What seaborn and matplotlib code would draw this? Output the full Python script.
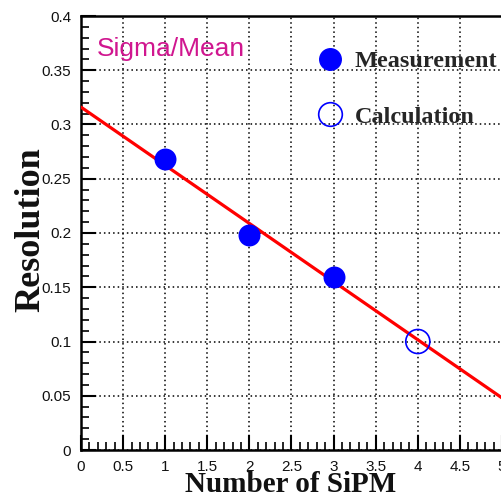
import matplotlib
matplotlib.use("Agg")
import matplotlib.pyplot as plt
import seaborn as sns
import pandas as pd
from matplotlib.ticker import MultipleLocator, FuncFormatter
from matplotlib.lines import Line2D

# ---- data ----
meas_n = [1, 2, 3]
meas_res = [0.268, 0.198, 0.159]
calc_n = [4]
calc_res = [0.100]
fit_n = [0, 5]
fit_res = [0.316, 0.048]
xlabel = "Number of SiPM"
ylabel = "Resolution"
title_text = "Sigma/Mean"
legend_labels = ["Measurement", "Calculation"]

sns.set_theme(style="white")
plt.rcParams['font.family'] = ['Liberation Sans', 'DejaVu Sans']

W, H = 502, 496
fig = plt.figure(figsize=(W / 100, H / 100), dpi=100)
ax = fig.add_axes([81 / W, 46 / H, 421 / W, 434 / H])

meas_df = pd.DataFrame({"n": meas_n, "res": meas_res})
calc_df = pd.DataFrame({"n": calc_n, "res": calc_res})
fit_df = pd.DataFrame({"n": fit_n, "res": fit_res})

sns.lineplot(data=fit_df, x="n", y="res", color="#ff0000", linewidth=2.3, ax=ax, zorder=3)
sns.scatterplot(data=meas_df, x="n", y="res", color="#0000ff", s=250, marker="o",
                edgecolor="#0000ff", linewidth=0, ax=ax, zorder=4)
ax.scatter(calc_df["n"], calc_df["res"], s=300, facecolors="none", edgecolors="#0000ff",
           linewidths=1.2, zorder=4)

ax.set_xlim(0, 5)
ax.set_ylim(0, 0.4)
ax.xaxis.set_major_locator(MultipleLocator(0.5))
ax.xaxis.set_minor_locator(MultipleLocator(0.1))
ax.yaxis.set_major_locator(MultipleLocator(0.05))
ax.yaxis.set_minor_locator(MultipleLocator(0.01))
ax.xaxis.set_major_formatter(FuncFormatter(lambda v, p: f"{v:g}"))
ax.yaxis.set_major_formatter(FuncFormatter(lambda v, p: f"{v:g}"))

ax.grid(True, which="major", color="black", linestyle=(0, (1, 2.0)), linewidth=1.1)
ax.set_axisbelow(True)

ax.tick_params(which="major", direction="in", length=11, width=1.5, color="black",
               labelsize=11, pad=7, bottom=True, left=True, top=False, right=False)
ax.tick_params(which="minor", direction="in", length=6, width=1.2, color="black",
               bottom=True, left=True, top=False, right=False)
for lab in ax.get_xticklabels() + ax.get_yticklabels():
    lab.set_color("#111111")

for side in ["left", "bottom", "top"]:
    ax.spines[side].set_visible(True)
    ax.spines[side].set_color("black")
    ax.spines[side].set_linewidth(1.8)
ax.spines["right"].set_visible(False)

ax.set_xlabel(xlabel, fontsize=21, fontweight="bold", family="Liberation Serif", color="#111111")
ax.xaxis.set_label_coords((290.5 - 81) / 421, (450 - 471) / 434)
ax.set_ylabel(ylabel, fontsize=26, fontweight="bold", family="Liberation Serif",
              color="#111111", va="center")
ax.yaxis.set_label_coords((31 - 81) / 421, (450 - 230) / 434)

fig.text(97 / W, 1 - 49 / H, title_text, color="#d0168f", fontsize=19,
         family="Liberation Sans", va="center", ha="left")

handles = [
    Line2D([], [], linestyle="none", marker="o", markersize=15.5, markerfacecolor="#0000ff",
           markeredgecolor="#0000ff"),
    Line2D([], [], linestyle="none", marker="o", markersize=17, markerfacecolor="none",
           markeredgecolor="#0000ff", markeredgewidth=1.2),
]
leg = ax.legend(handles, legend_labels, loc="upper left",
                bbox_to_anchor=(318 / W, 1 - 50 / H), bbox_transform=fig.transFigure,
                frameon=False, borderpad=0, borderaxespad=0, handlelength=1.0,
                handletextpad=0.52, labelspacing=1.38,
                prop={"family": "Liberation Serif", "weight": "bold", "size": 17.5})

fig.savefig("out.png", dpi=100)
